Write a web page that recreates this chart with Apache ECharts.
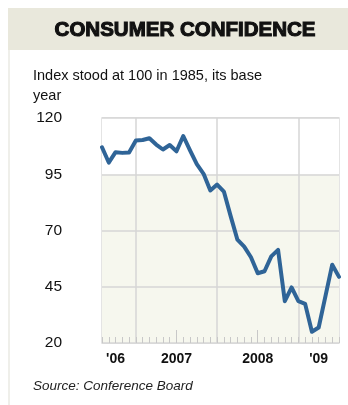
<!DOCTYPE html>
<html>
<head>
<meta charset="utf-8">
<script src="https://cdn.jsdelivr.net/npm/echarts@6/dist/echarts.min.js"></script>
<style>
html,body{margin:0;padding:0;background:#fff;}
#chart{width:348px;height:405px;}
</style>
</head>
<body>
<div id="chart"></div>
<script>
// Months Jul 2006 .. Jun 2009
const months = [
  'Jul 06','Aug 06','Sep 06','Oct 06','Nov 06','Dec 06',
  'Jan 07','Feb 07','Mar 07','Apr 07','May 07','Jun 07',
  'Jul 07','Aug 07','Sep 07','Oct 07','Nov 07','Dec 07',
  'Jan 08','Feb 08','Mar 08','Apr 08','May 08','Jun 08',
  'Jul 08','Aug 08','Sep 08','Oct 08','Nov 08','Dec 08',
  'Jan 09','Feb 09','Mar 09','Apr 09','May 09','Jun 09'
];
const confidence = [
  107.0, 100.2, 104.8, 104.5, 104.7, 110.0,
  110.2, 111.0, 108.2, 106.0, 108.0, 105.2,
  112.0, 105.6, 99.5, 95.2, 87.8, 90.4,
  87.3, 76.4, 65.9, 62.8, 58.1, 51.0,
  51.9, 58.5, 61.4, 38.6, 44.7, 38.6,
  37.4, 25.0, 26.9, 40.8, 54.8, 49.4
];
const tickLabels = ["'06", '2007', '2008', "'09"];
const tickLabelIndex = [2, 11, 23, 32];
const yearLineIndex = [5, 17, 29];
const midYearTickIndex = [11, 23];
const yTicks = [20, 45, 70, 95, 120];

const chart = echarts.init(document.getElementById('chart'), null, {renderer: 'canvas'});
const FONT = '"Liberation Sans", Arial, Helvetica, sans-serif';

chart.setOption({
  animation: false,
  backgroundColor: '#ffffff',
  graphic: [
    {type: 'rect', shape: {x: 8, y: 8, width: 340, height: 42}, style: {fill: '#e9e8dc'}, z: 0},
    {type: 'rect', shape: {x: 8, y: 50, width: 2, height: 355}, style: {fill: '#efefea'}, z: 0},
    {type: 'text', x: 185, y: 30, style: {text: 'CONSUMER CONFIDENCE', font: 'bold 20.5px ' + FONT,
      fill: '#111', stroke: '#111', lineWidth: 1.1, textAlign: 'center', textVerticalAlign: 'middle'}},
    {type: 'text', x: 33, y: 66, style: {text: 'Index stood at 100 in 1985, its base\nyear',
      font: '14.5px ' + FONT, fill: '#111', lineHeight: 20, textAlign: 'left', textVerticalAlign: 'top'}},
    {type: 'text', x: 33, y: 386, style: {text: 'Source: Conference Board',
      font: 'italic 13.5px ' + FONT, fill: '#222', textAlign: 'left', textVerticalAlign: 'middle'}}
  ],
  grid: {left: 102, right: 9, top: 118, bottom: 62, show: true, borderColor: '#dcdcdc', borderWidth: 1.5,
    backgroundColor: 'transparent'},
  xAxis: [
    {
      type: 'category', data: months, boundaryGap: false, position: 'bottom',
      axisLine: {show: false},
      axisTick: {show: true, inside: true, length: 6, interval: 0, lineStyle: {color: '#c8c8c8', width: 1}},
      axisLabel: {
        show: true, margin: 9, fontFamily: FONT, fontSize: 14, fontWeight: 'bold', color: '#111',
        interval: function (idx) { return tickLabelIndex.indexOf(idx) >= 0; },
        formatter: function (v, idx) { const k = tickLabelIndex.indexOf(idx); return k >= 0 ? tickLabels[k] : ''; }
      },
      splitLine: {show: false}
    },
    {
      type: 'category', data: months, boundaryGap: false, position: 'bottom',
      axisLine: {show: false},
      axisTick: {show: true, inside: true, length: 13,
        interval: function (idx) { return midYearTickIndex.indexOf(idx) >= 0; },
        lineStyle: {color: '#c8c8c8', width: 1}},
      axisLabel: {show: false},
      splitLine: {show: true, interval: function (idx) { return yearLineIndex.indexOf(idx) >= 0; },
        lineStyle: {color: '#d6d6d6', width: 1.5}}
    }
  ],
  yAxis: {
    type: 'value', min: 20, max: 120, interval: 25,
    axisLine: {show: false}, axisTick: {show: false},
    axisLabel: {margin: 40, fontFamily: FONT, fontSize: 15.5, color: '#111',
      formatter: function (v) { return yTicks.indexOf(v) >= 0 ? String(v) : ''; }},
    splitLine: {show: true, lineStyle: {color: '#d6d6d6', width: 1.5}},
    splitArea: {show: true, areaStyle: {color: ['#f6f7ee', '#f6f7ee', '#f6f7ee', '#ffffff']}}
  },
  series: [{
    type: 'line', data: confidence, xAxisIndex: 0, showSymbol: false, symbol: 'none',
    lineStyle: {color: '#2f6497', width: 4, join: 'round', cap: 'round'}, z: 5
  }]
});
</script>
</body>
</html>
